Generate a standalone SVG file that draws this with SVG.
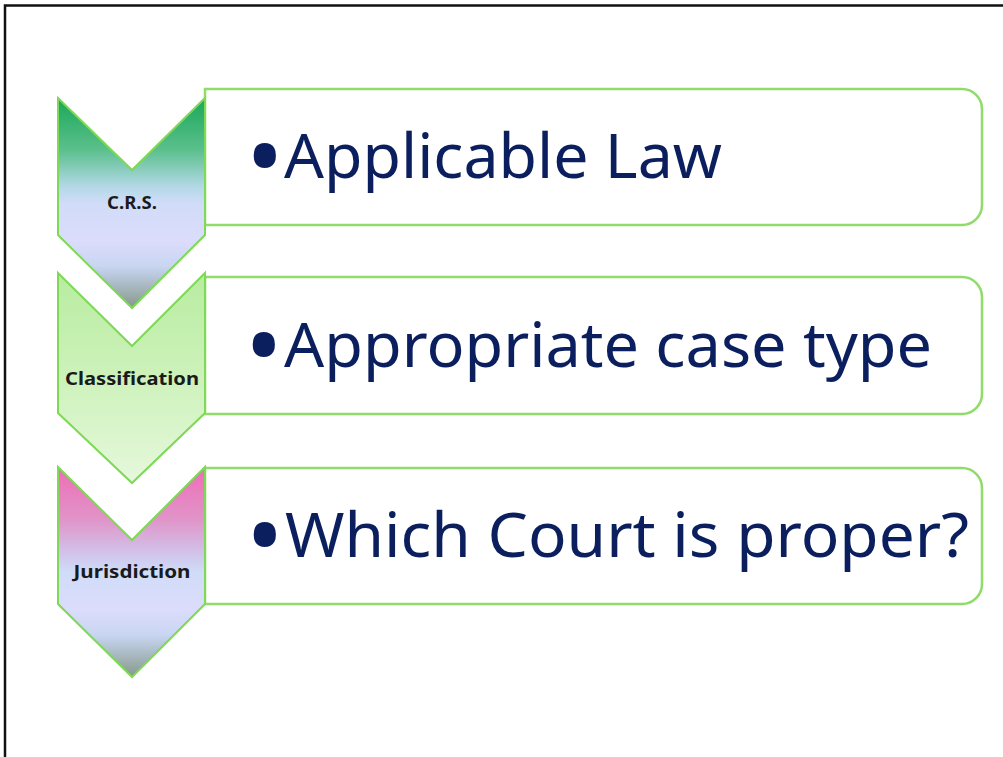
<svg xmlns="http://www.w3.org/2000/svg" width="1003" height="757" viewBox="0 0 1003 757">
<defs>
<linearGradient id="g1" x1="0" y1="0" x2="0" y2="1">
<stop offset="0" stop-color="#1aa757"/>
<stop offset="0.25" stop-color="#5cc08e"/>
<stop offset="0.42" stop-color="#b2d8e6"/>
<stop offset="0.5" stop-color="#d0dcf8"/>
<stop offset="0.68" stop-color="#dcdcfc"/>
<stop offset="0.8" stop-color="#c8d6f2"/>
<stop offset="1" stop-color="#86988a"/>
</linearGradient>
<linearGradient id="g2" x1="0" y1="0" x2="0" y2="1">
<stop offset="0" stop-color="#b8eca0"/>
<stop offset="0.5" stop-color="#cdf2bb"/>
<stop offset="1" stop-color="#e6f8dc"/>
</linearGradient>
<linearGradient id="g3" x1="0" y1="0" x2="0" y2="1">
<stop offset="0" stop-color="#f06cb6"/>
<stop offset="0.25" stop-color="#e094c8"/>
<stop offset="0.42" stop-color="#d0c6ec"/>
<stop offset="0.5" stop-color="#d0dcf8"/>
<stop offset="0.68" stop-color="#dcdcfc"/>
<stop offset="0.8" stop-color="#c8d6f2"/>
<stop offset="1" stop-color="#86988a"/>
</linearGradient>
</defs>
<style>
.chev{stroke:#7ed957;stroke-width:2;stroke-linejoin:miter}
.box{fill:#ffffff;stroke:#8fdc6a;stroke-width:2.5}
.lbl{font-family:"Noto Sans","Open Sans",sans-serif;font-weight:bold;font-size:18.5px;fill:#1a1a1a;text-anchor:middle}
.item{font-family:"Noto Sans","Open Sans",sans-serif;font-size:62px;fill:#0b1f5e}
.bul{font-family:"Noto Sans","Open Sans",sans-serif;font-size:100px;fill:#0b1f5e}
.frame{stroke:#111;stroke-width:2.5;fill:none}
</style>
<rect width="1003" height="757" fill="#ffffff"/>
<path class="frame" d="M5,757 V5.5 H1003"/>

<g id="box1">
<path class="box" d="M205,89 H962 A20,20 0 0 1 982,109 V205 A20,20 0 0 1 962,225 H205 Z"/>
<text class="bul" x="246" y="192">•</text>
<text class="item" x="284" y="178" textLength="438" lengthAdjust="spacingAndGlyphs">Applicable Law</text>
</g>
<g id="box2">
<path class="box" d="M205,277 H962 A20,20 0 0 1 982,297 V394 A20,20 0 0 1 962,414 H205 Z"/>
<text class="bul" x="245" y="381">•</text>
<text class="item" x="284" y="367" textLength="648" lengthAdjust="spacingAndGlyphs">Appropriate case type</text>
</g>
<g id="box3">
<path class="box" d="M205,468 H962 A20,20 0 0 1 982,488 V584 A20,20 0 0 1 962,604 H205 Z"/>
<text class="bul" x="246" y="571">•</text>
<text class="item" x="285" y="557" textLength="684" lengthAdjust="spacingAndGlyphs">Which Court is proper?</text>
</g>

<g id="chevron1">
<path class="chev" fill="url(#g1)" d="M58,98 L132,170 L205,98 L205,235 L132,308 L58,235 Z"/>
<text class="lbl" x="132" y="209">C.R.S.</text>
</g>
<g id="chevron2">
<path class="chev" fill="url(#g2)" d="M58,273 L132,346 L205,273 L205,413 L132,483 L58,413 Z"/>
<text class="lbl" x="132" y="385" textLength="134" lengthAdjust="spacingAndGlyphs">Classification</text>
</g>
<g id="chevron3">
<path class="chev" fill="url(#g3)" d="M58,467 L132,540 L205,467 L205,604 L132,677 L58,604 Z"/>
<text class="lbl" x="132" y="578" textLength="117" lengthAdjust="spacingAndGlyphs">Jurisdiction</text>
</g>
</svg>
